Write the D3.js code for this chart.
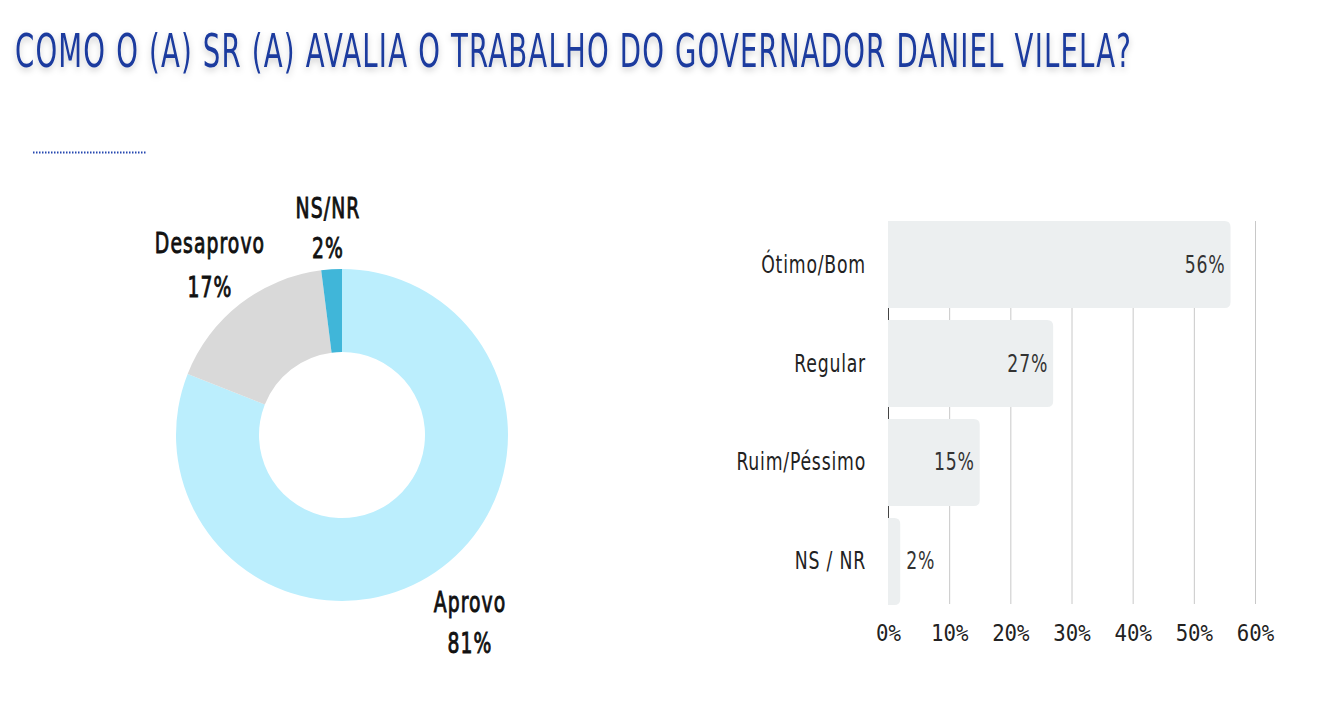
<!DOCTYPE html>
<html><head><meta charset="utf-8">
<script src="https://cdn.jsdelivr.net/npm/d3@7"></script>
<style>
html,body{margin:0;padding:0;background:#fff;}
svg{display:block;}
text{font-family:"DejaVu Sans Condensed","DejaVu Sans",sans-serif;}
</style></head>
<body>
<svg id="c" width="1325" height="711"></svg>
<script>
const titleText = "COMO O (A) SR (A) AVALIA O TRABALHO DO GOVERNADOR DANIEL VILELA?";
const donutLabels = ["Aprovo","Desaprovo","NS/NR"];
const donutValues = [81,17,2];
const donutColors = ["#bbeefd","#d9d9d9","#40b6d9"];
const barCategories = ["Ótimo/Bom","Regular","Ruim/Péssimo","NS / NR"];
const barValues = [56,27,15,2];
const tickValues = [0,10,20,30,40,50,60];

const svg = d3.select("#c");
const defs = svg.append("defs");
const f = defs.append("filter").attr("id","glow").attr("filterUnits","userSpaceOnUse")
  .attr("x",0).attr("y",0).attr("width",1325).attr("height",110);
f.append("feDropShadow").attr("dx",0).attr("dy",3).attr("stdDeviation",3).attr("flood-color","#000").attr("flood-opacity",0.2);

// Title (condensed via horizontal scale)
const tsx = 0.6;
svg.append("g").attr("filter","url(#glow)")
  .append("text").attr("transform",`translate(15,67) scale(${tsx},1)`)
  .attr("x",0).attr("y",0)
  .attr("font-size",46).attr("font-weight",400).attr("fill","#1a3a9e")
  .style("font-family",'"DejaVu Sans",sans-serif')
  .attr("textLength",1116/tsx).attr("lengthAdjust","spacing")
  .text(titleText);

svg.append("line").attr("x1",33).attr("x2",147).attr("y1",152.5).attr("y2",152.5)
  .attr("stroke","#2447b0").attr("stroke-width",2).attr("stroke-dasharray","1.5,1.5");

// Donut
const cx = 342, cy = 435, R = 166, r = 83;
const pie = d3.pie().sort(null).value(d=>d)(donutValues);
const arc = d3.arc().innerRadius(r).outerRadius(R);
const g = svg.append("g").attr("transform",`translate(${cx},${cy})`);
g.selectAll("path").data(pie).join("path").attr("d",arc).attr("fill",(d,i)=>donutColors[i]);

const labelPos = [[470,612,653],[210,253,297],[328,218,258]];
const lsx = 0.72;
donutLabels.forEach((l,i)=>{
  const p = labelPos[i];
  [[l,p[1]],[donutValues[i]+"%",p[2]]].forEach(([t,yy])=>{
    svg.append("text").attr("transform",`translate(${p[0]},${yy}) scale(${lsx},1)`)
      .attr("text-anchor","middle").attr("font-size",29)
      .attr("fill","#111").attr("stroke","#111").attr("stroke-width",0.9)
      .attr("letter-spacing",1.5).text(t);
  });
});

// Bars
const x = d3.scaleLinear().domain([0,60]).range([888,1255]);
const y = d3.scaleBand().domain(barCategories).range([221,605]).paddingInner(0.12).paddingOuter(0);
const gridTop = 221, gridBot = 604;
svg.append("g").selectAll("line").data(tickValues).join("line")
  .attr("x1",d=>x(d)+0.5).attr("x2",d=>x(d)+0.5).attr("y1",gridTop).attr("y2",gridBot)
  .attr("stroke",(d)=>d===0?"#444":"#c8c8c8").attr("stroke-width",1);

const rr = 6;
svg.append("g").selectAll("path").data(barValues).join("path")
  .attr("fill","#eceff0")
  .attr("d",(d,i)=>{
    const x0 = x(0), x1 = x(d), y0 = y(barCategories[i]), h = y.bandwidth();
    const rad = Math.min(rr,(x1-x0)/2);
    return `M${x0},${y0}H${x1-rad}Q${x1},${y0} ${x1},${y0+rad}V${y0+h-rad}Q${x1},${y0+h} ${x1-rad},${y0+h}H${x0}Z`;
  });

const bsx = 0.8;
svg.append("g").selectAll("text").data(barCategories).join("text")
  .attr("transform",d=>`translate(866,${y(d)+y.bandwidth()/2+8}) scale(${bsx},1)`)
  .attr("text-anchor","end").attr("font-size",24).attr("letter-spacing",1).attr("fill","#222").text(d=>d);

svg.append("g").selectAll("text").data(barValues).join("text")
  .attr("transform",(d,i)=>`translate(${d<5 ? x(d)+6 : x(d)-5},${y(barCategories[i])+y.bandwidth()/2+8}) scale(${bsx},1)`)
  .attr("text-anchor",d=> d<5 ? "start":"end")
  .attr("font-size",24).attr("letter-spacing",1).attr("fill","#333").text(d=>d+"%");

const xAxis = d3.axisBottom(x).tickValues(tickValues).tickFormat(d=>d+"%").tickSize(0).tickPadding(0);
const ax = svg.append("g").attr("transform","translate(0,641)").call(xAxis);
ax.select(".domain").remove();
ax.selectAll("text").attr("font-size",23).attr("fill","#222")
  .style("font-family",'"DejaVu Sans Mono",monospace').attr("dy",0)
  .attr("transform","scale(0.9,1)")
  .attr("x",0);
</script>
</body></html>
